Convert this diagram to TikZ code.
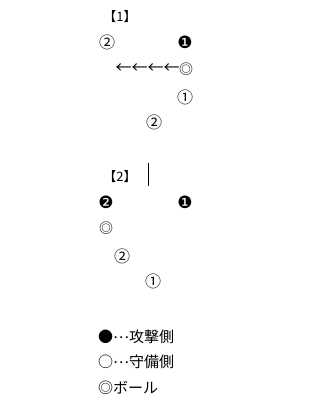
\documentclass[tikz,border=0pt]{standalone}
\usepackage{fontspec}
\setmainfont{Noto Sans CJK JP}
\newfontfamily\dingfont{DejaVu Sans}
\usetikzlibrary{positioning}
\tikzset{
  sym/.style={inner sep=0pt,font=\fontsize{16}{16}\selectfont},
  ballmk/.style={inner sep=0pt,font=\fontsize{14}{14}\selectfont},
  atk/.style={inner sep=0pt,font=\dingfont\fontsize{17}{17}\selectfont},
  passarr/.style={inner sep=0pt,font=\fontsize{16}{16}\selectfont},
  ttl/.style={inner sep=0pt,font=\fontsize{13}{13}\selectfont},
  lgd/.style={inner sep=0pt,anchor=west,font=\fontsize{15}{15}\selectfont},
  cursor/.style={line width=0.8pt}
}
\newcommand{\midots}{\raisebox{0.3em}{…}}
\begin{document}
\begin{tikzpicture}[x=1pt,y=-1pt]
  \useasboundingbox (0,0) rectangle (334,420);
  % Case 1
  \node[ttl] (t1) at (120,17) {【1】};
  \node[sym] (d2a) at (107,42) {②};
  \node[atk] (a1a) at (185,42) {❶};
  \node[ballmk] (balla) at (186,69) {◎};
  \node[passarr, left=-1pt of balla] (pass) {←←←←};
  \node[sym] (d1a) at (185,97) {①};
  \node[sym] (d2b) at (154,122) {②};

  % Case 2
  \node[ttl] (t2) at (120,177) {【2】};
  \coordinate (curtop) at (148,163);
  \coordinate (curbot) at (148,186);
  \draw[cursor] (curtop) -- (curbot);
  \node[atk] (a2) at (106,202) {❷};
  \node[atk] (a1b) at (185,202) {❶};
  \node[ballmk] (ballb) at (106,228) {◎};
  \node[sym] (d2c) at (122,256) {②};
  \node[sym] (d1b) at (153,281) {①};

  % Legend
  \node[lgd] (lg1) at (98,337) {●\midots 攻撃側};
  \node[lgd] (lg2) at (98,362) {○\midots 守備側};
  \node[lgd] (lg3) at (98,388) {◎ボール};
\end{tikzpicture}
\end{document}
